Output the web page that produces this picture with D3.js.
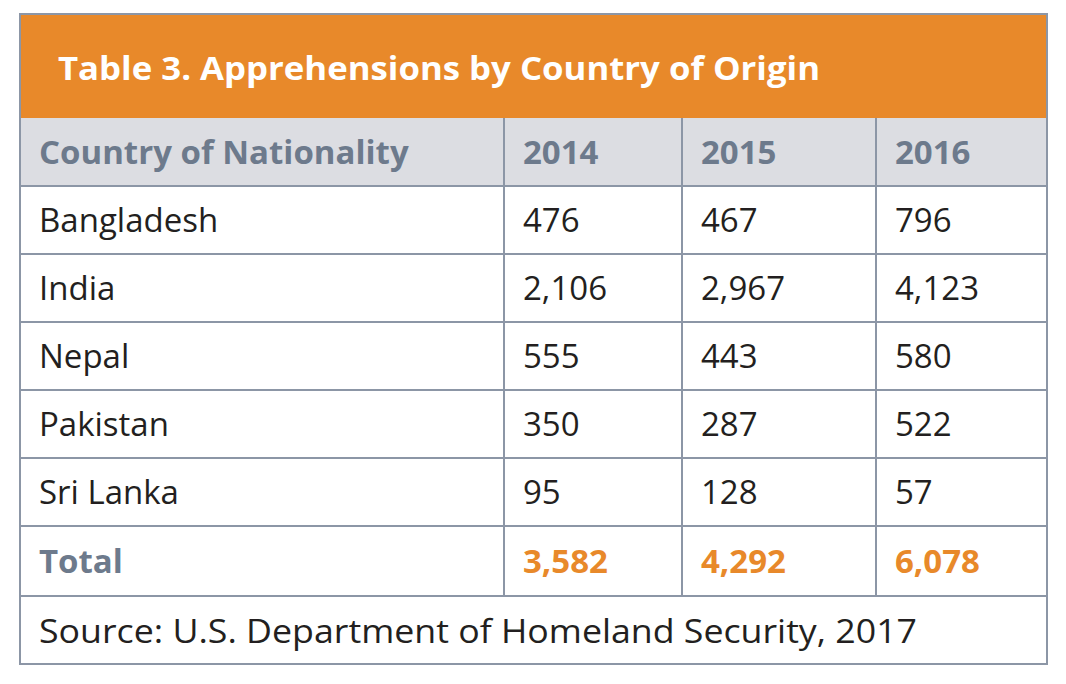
<!DOCTYPE html>
<html><head><meta charset="utf-8">
<script src="https://cdn.jsdelivr.net/npm/d3@7"></script>
<style>body{margin:0;background:#fff}</style>
</head><body><div id="chart"></div>
<script>
const title = "Table 3. Apprehensions by Country of Origin";
const headers = ["Country of Nationality", "2014", "2015", "2016"];
const countries = ["Bangladesh", "India", "Nepal", "Pakistan", "Sri Lanka"];
const v2014 = [476, 2106, 555, 350, 95];
const v2015 = [467, 2967, 443, 287, 128];
const v2016 = [796, 4123, 580, 522, 57];
const totals = [3582, 4292, 6078];
const source = "Source: U.S. Department of Homeland Security, 2017";

const W = 1066, H = 684;
const svg = d3.select("#chart").append("svg").attr("width", W).attr("height", H);
const font = "'Open Sans', Lato, sans-serif";
const fmt = d3.format(",");

// column edges and row edges
const colEdges = [20, 504, 682, 876, 1047];
const rowEdges = [118, 186, 254, 322, 390, 458, 526, 596, 664];
const line = "#8c96a6";

// title bar
svg.append("rect").attr("x", 20).attr("y", 14).attr("width", 1027).attr("height", 104).attr("fill", "#e8892a");
svg.append("text").attr("x", 58).attr("y", 80).text(title)
  .attr("fill", "#fff").attr("font-family", font).attr("font-weight", 700).attr("font-size", "32px")
  .attr("textLength", 762).attr("lengthAdjust", "spacingAndGlyphs");

// header background
svg.append("rect").attr("x", 20).attr("y", rowEdges[0]).attr("width", 1027).attr("height", 68).attr("fill", "#dcdde2");

const rows = countries.map((c, i) => [c, fmt(v2014[i]), fmt(v2015[i]), fmt(v2016[i])]);
const allRows = [headers, ...rows, ["Total", ...totals.map(fmt)]];

allRows.forEach((r, i) => {
  const y0 = rowEdges[i], y1 = rowEdges[i + 1];
  const bold = i === 0 || i === allRows.length - 1;
  r.forEach((t, j) => {
    let fill = "#231f20";
    if (i === 0 || (i === allRows.length - 1 && j === 0)) fill = "#6d7a8c";
    else if (i === allRows.length - 1) fill = "#e8892a";
    svg.append("text").attr("x", colEdges[j] + 19).attr("y", (y0 + y1) / 2 + 12)
      .text(t).attr("fill", fill).attr("font-family", font)
      .attr("font-weight", bold ? 700 : 400).attr("font-size", "33px");
  });
});

svg.append("text").attr("x", 39).attr("y", 643).text(source)
  .attr("fill", "#231f20").attr("font-family", font).attr("font-size", "33px")
  .attr("textLength", 878).attr("lengthAdjust", "spacingAndGlyphs");

// grid lines
rowEdges.slice(1, -1).forEach(y => svg.append("line").attr("x1", 20).attr("x2", 1047).attr("y1", y).attr("y2", y)
  .attr("stroke", line).attr("stroke-width", 2));
colEdges.slice(1, -1).forEach(x => svg.append("line").attr("x1", x).attr("x2", x).attr("y1", rowEdges[0]).attr("y2", rowEdges[7])
  .attr("stroke", line).attr("stroke-width", 2));
svg.append("rect").attr("x", 20).attr("y", 14).attr("width", 1027).attr("height", 650)
  .attr("fill", "none").attr("stroke", line).attr("stroke-width", 2);
</script></body></html>
